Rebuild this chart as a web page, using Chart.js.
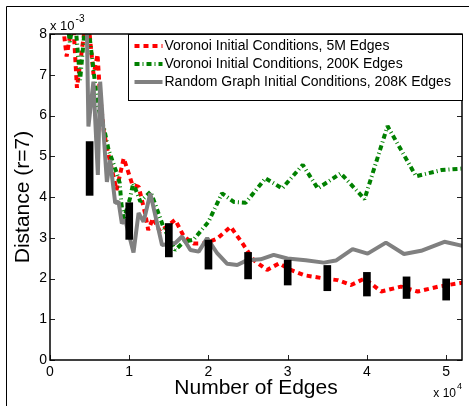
<!DOCTYPE html>
<html>
<head>
<meta charset="utf-8">
<script src="https://cdn.jsdelivr.net/npm/chart.js@4.4.0/dist/chart.umd.min.js"></script>
<style>
  html, body { margin: 0; padding: 0; background: #fff; }
  #wrap { width: 469px; height: 406px; }
</style>
</head>
<body>
<div id="wrap"><canvas id="distChart" width="469" height="406"></canvas></div>
<script>
// x in units of 1e4 edges, y in units of 1e-3
const seriesLabels = [
    'Voronoi Initial Conditions, 5M Edges',
    'Voronoi Initial Conditions, 200K Edges',
    'Random Graph Initial Conditions, 208K Edges'
];

const redX = [0.14, 0.21, 0.29, 0.34, 0.47, 0.55, 0.60, 0.63, 0.68, 0.72, 0.84, 0.93, 0.99, 1.04, 1.12, 1.20, 1.24, 1.30, 1.39, 1.58,
    1.69, 1.81, 1.96, 2.11, 2.28, 2.43, 2.57, 2.74, 2.89, 3.04, 3.21, 3.46, 3.63, 3.80, 3.97, 4.18, 4.43, 4.64, 4.90, 5.21];
const redY = [8.6, 7.45, 8.4, 6.68, 8.6, 7.0, 7.5, 6.55, 5.6, 5.2, 4.17, 4.95, 4.6, 4.3, 4.25, 3.6, 3.19, 3.48, 3.15, 3.44,
    3.03, 2.86, 2.86, 2.98, 3.27, 2.86, 2.45, 2.21, 2.37, 2.21, 2.08, 2.0, 1.96, 1.84, 2.0, 1.68, 1.8, 1.68, 1.8, 1.9];

const greenX = [0.20, 0.25, 0.31, 0.38, 0.46, 0.58, 0.60, 0.68, 0.74, 0.84, 0.88, 0.90, 0.93, 1.01, 1.05, 1.14, 1.27, 1.43,
    1.58, 1.69, 1.81, 2.00, 2.17, 2.32, 2.47, 2.72, 2.93, 3.19, 3.38, 3.67, 3.97, 4.26, 4.62, 4.94, 5.21];
const greenY = [8.6, 7.8, 8.5, 6.87, 8.6, 6.6, 6.25, 5.7, 5.15, 4.6, 4.34, 3.85, 3.44, 3.97, 4.34, 3.89, 4.13, 3.27,
    2.70, 2.90, 2.95, 3.39, 4.09, 3.88, 3.86, 4.46, 4.21, 4.79, 4.21, 4.58, 3.95, 5.74, 4.51, 4.66, 4.70];

const grayX = [0.46, 0.485, 0.548, 0.604, 0.633, 0.718, 0.759, 0.823, 0.865, 0.907, 0.949, 1.054, 1.118, 1.181, 1.266, 1.371, 1.414,
    1.582, 1.667, 1.772, 1.877, 1.984, 2.11, 2.237, 2.363, 2.49, 2.658, 2.823, 2.996, 3.228, 3.456, 3.608, 3.819, 4.009, 4.24,
    4.468, 4.684, 4.978, 5.21];
const grayY = [8.8, 5.73, 6.83, 4.54, 6.83, 4.37, 4.91, 3.85, 3.89, 3.35, 3.44, 2.64, 3.61, 3.39, 4.09, 3.19, 2.82,
    2.87, 3.03, 2.70, 2.66, 2.99, 2.62, 2.36, 2.33, 2.45, 2.47, 2.58, 2.49, 2.45, 2.39, 2.44, 2.72, 2.61, 2.88,
    2.60, 2.68, 2.90, 2.80];

// error bars
const errX = [0.5, 1, 1.5, 2, 2.5, 3, 3.5, 4, 4.5, 5];
const errLo = [4.04, 2.96, 2.53, 2.23, 1.99, 1.84, 1.70, 1.57, 1.51, 1.47];
const errHi = [5.36, 3.86, 3.35, 2.94, 2.64, 2.45, 2.32, 2.15, 2.04, 1.99];

const xTicks = [0, 1, 2, 3, 4, 5];
const yTicks = [0, 1, 2, 3, 4, 5, 6, 7, 8];

Chart.defaults.font.family = "'Liberation Sans', Arial, sans-serif";
Chart.defaults.color = '#000';

function pts(xs, ys) {
    return xs.map((x, i) => ({ x: x, y: ys[i] }));
}

function strokeLine(ctx, x1, y1, x2, y2) {
    ctx.beginPath();
    ctx.moveTo(x1, y1);
    ctx.lineTo(x2, y2);
    ctx.stroke();
}

// ticks pointing inward, axes box, legend inside the plot, exponents
const decorations = {
    id: 'decorations',
    afterDatasetsDraw(chart) {
        const { ctx, chartArea: a, scales: { x, y } } = chart;
        ctx.save();
        ctx.strokeStyle = '#222';
        ctx.lineWidth = 1;
        xTicks.forEach(v => {
            const px = Math.round(x.getPixelForValue(v)) + 0.5;
            strokeLine(ctx, px, a.bottom, px, a.bottom - 5);
            strokeLine(ctx, px, a.top, px, a.top + 5);
        });
        yTicks.forEach(v => {
            const py = Math.round(y.getPixelForValue(v)) + 0.5;
            strokeLine(ctx, a.left, py, a.left + 5, py);
            strokeLine(ctx, a.right, py, a.right - 5, py);
        });
        ctx.strokeStyle = '#000';
        ctx.lineWidth = 1.5;
        ctx.strokeRect(a.left, a.top, a.right - a.left, a.bottom - a.top);

        // legend
        const w = 334, h = 66;
        const lx = Math.round(a.right - w) + 0.5, ly = Math.round(a.top) + 0.5;
        ctx.fillStyle = '#fff';
        ctx.fillRect(lx, ly, w, h);
        ctx.lineWidth = 1;
        ctx.strokeRect(lx, ly, w, h);
        const order = [3, 2, 1];
        ctx.font = "14px 'Liberation Sans', Arial, sans-serif";
        ctx.textBaseline = 'middle';
        order.forEach((di, row) => {
            const ds = chart.data.datasets[di];
            const ry = ly + 11.5 + row * 18;
            ctx.save();
            ctx.strokeStyle = ds.borderColor;
            ctx.lineWidth = ds.borderWidth;
            ctx.setLineDash(ds.borderDash || []);
            strokeLine(ctx, lx + 6, ry, lx + 34, ry);
            ctx.restore();
            ctx.fillStyle = '#000';
            ctx.fillText(ds.label, lx + 36, ry + 0.5);
        });
        ctx.restore();
    },
    afterDraw(chart) {
        const { ctx, chartArea: a } = chart;
        ctx.save();
        ctx.fillStyle = '#000';
        ctx.textBaseline = 'alphabetic';
        ctx.font = "13px 'Liberation Sans', Arial, sans-serif";
        ctx.fillText('x 10', a.left, a.top - 4);
        const w1 = ctx.measureText('x 10').width;
        ctx.font = "10px 'Liberation Sans', Arial, sans-serif";
        ctx.fillText('-3', a.left + w1 + 1, a.top - 12);

        ctx.font = "12px 'Liberation Sans', Arial, sans-serif";
        const w2 = ctx.measureText('x 10').width;
        ctx.fillText('x 10', a.right - w2 - 6, 397);
        ctx.font = "9px 'Liberation Sans', Arial, sans-serif";
        ctx.fillText('4', a.right - 5, 389);

        // figure frame
        ctx.strokeStyle = '#000';
        ctx.lineWidth = 1;
        strokeLine(ctx, 6.5, 6.5, 469, 6.5);
        strokeLine(ctx, 6.5, 6.5, 6.5, 406);
        ctx.restore();
    }
};

const tickFont = { size: 14 };

const ctx = document.getElementById('distChart').getContext('2d');
const distChart = new Chart(ctx, {
    type: 'line',
    data: {
        datasets: [
            {
                type: 'bar',
                label: 'std',
                data: errX.map((v, i) => ({ x: v, y: [errLo[i], errHi[i]] })),
                backgroundColor: '#000',
                borderWidth: 0,
                barThickness: 7,
                order: 0
            },
            {
                label: seriesLabels[2],
                data: pts(grayX, grayY),
                borderColor: '#808080',
                borderWidth: 4,
                clip: 0,
                order: 1
            },
            {
                label: seriesLabels[1],
                data: pts(greenX, greenY),
                borderColor: '#008000',
                borderWidth: 4,
                borderDash: [5, 3, 1, 3],
                clip: 0,
                order: 2
            },
            {
                label: seriesLabels[0],
                data: pts(redX, redY),
                borderColor: '#ff0000',
                borderWidth: 4,
                borderDash: [5, 4],
                clip: 0,
                order: 3
            }
        ]
    },
    options: {
        responsive: false,
        animation: false,
        layout: { padding: { top: 34, right: 7, left: 0, bottom: 0 } },
        elements: {
            point: { radius: 0 },
            line: { tension: 0, fill: false, borderJoinStyle: 'bevel' }
        },
        plugins: {
            legend: { display: false },
            tooltip: { enabled: false }
        },
        scales: {
            x: {
                type: 'linear',
                min: 0,
                max: 5.2,
                offset: false,
                grid: { display: false, drawTicks: false },
                border: { display: false },
                ticks: { stepSize: 1, includeBounds: false, font: tickFont, padding: 4, maxRotation: 0 },
                title: { display: true, text: 'Number of Edges', font: { size: 21 }, padding: { top: 0, bottom: 5 } },
                afterFit(s) { s.height = 46; }
            },
            y: {
                min: 0,
                max: 8,
                grid: { display: false, drawTicks: false },
                border: { display: false },
                ticks: { stepSize: 1, font: tickFont, padding: 3 },
                title: { display: true, text: 'Distance (r=7)', font: { size: 21 }, padding: { top: 11, bottom: 0 } },
                afterFit(s) { s.width = 50; }
            }
        }
    },
    plugins: [decorations]
});
</script>
</body>
</html>
